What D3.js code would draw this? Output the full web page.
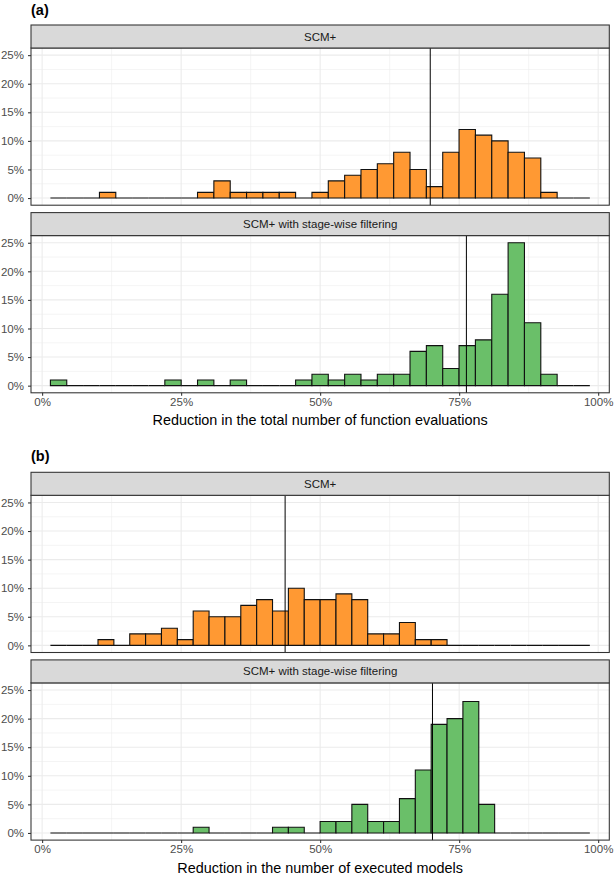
<!DOCTYPE html>
<html><head><meta charset="utf-8">
<script src="https://cdn.jsdelivr.net/npm/d3@7"></script>
<style>body{margin:0;background:#fff} svg{display:block}</style>
</head><body>
<script>
// ---------- data ----------
const tags = ["(a)", "(b)"];
const panelTitles = ["SCM+", "SCM+ with stage-wise filtering"];
const xTitles = ["Reduction in the total number of function evaluations",
                 "Reduction in the number of executed models"];
const xTicks = [0, 25, 50, 75, 100];
const xMinor = [12.5, 37.5, 62.5, 87.5];
const yTicks = [0, 5, 10, 15, 20, 25];
const yMinor = [2.5, 7.5, 12.5, 17.5, 22.5];
const binRange = [1.49, 98.5];           // histogram span (percent)
const binCounts = [33, 34];              // number of bins in (a) and (b)
// percent of runs per bin
const aSCM   = [0,0,0,1,0,0,0,0,0,1,3,1,1,1,1,0,1,3,4,5,6,8,5,2,8,12,11,10,8,7,1,0,0];
const aSCMsf = [1,0,0,0,0,0,0,1,0,1,0,1,0,0,0,1,2,1,2,1,2,2,6,7,3,7,8,16,25,11,2,0,0];
const bSCM   = [0,0,0,1,0,2,2,3,1,6,5,5,7,8,6,10,8,8,9,8,2,2,4,1,1,0,0,0,0,0,0,0,0,0];
const bSCMsf = [0,0,0,0,0,0,0,0,0,1,0,0,0,0,1,1,0,2,2,5,2,2,6,11,19,20,23,5,0,0,0,0,0,0];
const vlinesA = [69.8, 76.3];
const vlinesB = [43.7, 70.2];
const fills = ["#FF9933", "#6ABF69"];

// ---------- layout ----------
const W = 614, H = 880;
const FONT = "'Liberation Sans', Arial, Helvetica, sans-serif";
const left = 31, right = 609.3;
const stripH = 23, panelH = 157.2, gap = 7.4;
const groupTops = [25, 472.3];
const tagY = [9.5, 456];

const svg = d3.select("body").append("svg").attr("width", W).attr("height", H)
  .style("font-family", FONT);

const x = d3.scaleLinear().domain([-2, 102]).range([left, right]);

const groups = [
  {series: [aSCM, aSCMsf], vlines: vlinesA, bins: binCounts[0]},
  {series: [bSCM, bSCMsf], vlines: vlinesB, bins: binCounts[1]}
];

groups.forEach((g, gi) => {
  const top = groupTops[gi];
  const edges = d3.range(g.bins + 1).map(i => binRange[0] + (binRange[1] - binRange[0]) * i / g.bins);

  svg.append("text").attr("x", left).attr("y", tagY[gi])
    .attr("dominant-baseline", "central")
    .style("font-size", "14.5px").style("font-weight", "bold").attr("fill", "#000")
    .text(tags[gi]);

  g.series.forEach((vals, pi) => {
    const sTop = top + pi * (stripH + panelH + gap);
    const pTop = sTop + stripH, pBot = pTop + panelH;
    const y = d3.scaleLinear().domain([-1.25, 26.25]).range([pBot, pTop]);
    const gp = svg.append("g");

    gp.append("rect").attr("x", left).attr("y", pTop).attr("width", right - left).attr("height", panelH).attr("fill", "#fff");
    gp.selectAll(".ymin").data(yMinor).join("line")
      .attr("x1", left).attr("x2", right).attr("y1", d => y(d)).attr("y2", d => y(d))
      .attr("stroke", "#EBEBEB").attr("stroke-width", 0.55);
    gp.selectAll(".xmin").data(xMinor).join("line")
      .attr("y1", pTop).attr("y2", pBot).attr("x1", d => x(d)).attr("x2", d => x(d))
      .attr("stroke", "#EBEBEB").attr("stroke-width", 0.55);
    gp.selectAll(".ymaj").data(yTicks).join("line")
      .attr("x1", left).attr("x2", right).attr("y1", d => y(d)).attr("y2", d => y(d))
      .attr("stroke", "#EBEBEB").attr("stroke-width", 1.07);
    gp.selectAll(".xmaj").data(xTicks).join("line")
      .attr("y1", pTop).attr("y2", pBot).attr("x1", d => x(d)).attr("x2", d => x(d))
      .attr("stroke", "#EBEBEB").attr("stroke-width", 1.07);

    gp.selectAll(".bar").data(vals).join("path")
      .attr("d", (d, i) => {
        const x0 = x(edges[i]), x1 = x(edges[i + 1]), y0 = y(0), y1 = y(d);
        return `M${x0},${y0}L${x0},${y1}L${x1},${y1}L${x1},${y0}Z`;
      })
      .attr("fill", fills[pi]).attr("stroke", "#111").attr("stroke-width", 1.1)
      .attr("stroke-linejoin", "miter");

    gp.append("line").attr("x1", x(g.vlines[pi])).attr("x2", x(g.vlines[pi]))
      .attr("y1", pTop).attr("y2", pBot).attr("stroke", "#000").attr("stroke-width", 1.0);

    gp.append("rect").attr("x", left).attr("y", pTop).attr("width", right - left).attr("height", panelH)
      .attr("fill", "none").attr("stroke", "#333333").attr("stroke-width", 1.07);

    gp.append("rect").attr("x", left).attr("y", sTop).attr("width", right - left).attr("height", stripH)
      .attr("fill", "#D9D9D9").attr("stroke", "#333333").attr("stroke-width", 1.07);
    gp.append("text").attr("x", (left + right) / 2).attr("y", sTop + stripH / 2)
      .attr("text-anchor", "middle").attr("dominant-baseline", "central")
      .style("font-size", "11.5px").attr("fill", "#1A1A1A").text(panelTitles[pi]);

    const yAxis = d3.axisLeft(y).tickValues(yTicks).tickFormat(d => d + "%").tickSize(3).tickPadding(4);
    const ya = svg.append("g").attr("transform", `translate(${left},0)`).call(yAxis);
    ya.select(".domain").remove();
    ya.selectAll(".tick line").attr("stroke", "#333333").attr("stroke-width", 1.07);
    ya.selectAll(".tick text").attr("fill", "#4D4D4D").style("font-size", "11.5px").style("font-family", FONT);

    if (pi === 1) {
      const xAxis = d3.axisBottom(x).tickValues(xTicks).tickFormat(d => d + "%").tickSize(3).tickPadding(2);
      const xa = svg.append("g").attr("transform", `translate(0,${pBot})`).call(xAxis);
      xa.select(".domain").remove();
      xa.selectAll(".tick line").attr("stroke", "#333333").attr("stroke-width", 1.07);
      xa.selectAll(".tick text").attr("fill", "#4D4D4D").style("font-size", "11.5px").style("font-family", FONT);
      svg.append("text").attr("x", (left + right) / 2).attr("y", pBot + 27.5)
        .attr("text-anchor", "middle").attr("dominant-baseline", "central")
        .style("font-size", "14.4px").attr("fill", "#000").text(xTitles[gi]);
    }
  });
});
</script>
</body></html>
